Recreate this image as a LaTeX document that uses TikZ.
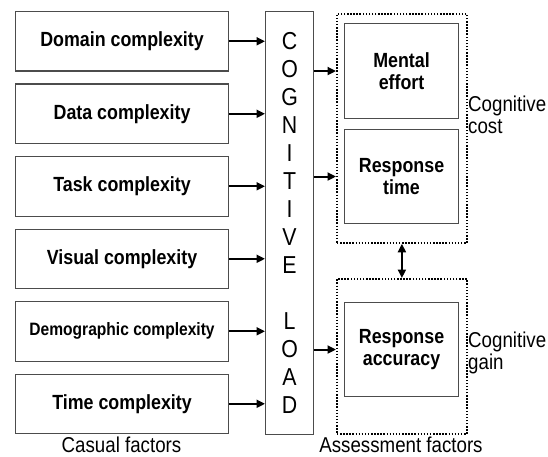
\documentclass[tikz,border=0pt]{standalone}
\usepackage{fontspec}
\setmainfont{Liberation Sans}[FakeStretch=0.87]
\usetikzlibrary{arrows.meta}
\begin{document}
\begin{tikzpicture}[x=1pt,y=-1pt,
  box/.style={draw=black!70, line width=1.1pt, inner sep=0pt, align=center},
  factor/.style={box, minimum width=213pt, minimum height=59.5pt, anchor=north west,
    font=\bfseries\fontsize{20.5}{22}\selectfont},
  outcome/.style={box, minimum width=114pt, minimum height=95pt, anchor=north west,
    font=\bfseries\fontsize{20.5}{22}\selectfont},
  group/.style={draw=black, line width=1.8pt, dash pattern=on 1.5pt off 1.6pt,
    minimum width=130pt, anchor=north west, inner sep=0pt},
  tip/.tip={Triangle[length=8.5pt,width=8pt]},
  link/.style={line width=2pt, -tip},
  note/.style={font=\fontsize{21.5}{21.5}\selectfont, align=left, inner sep=0pt},
  caption/.style={font=\fontsize{21.5}{21.5}\selectfont, inner sep=0pt, anchor=base}
]
\useasboundingbox (0,0) rectangle (548,457);

% causal factors
\node[factor] (f1) at (15,11)    {Domain complexity};
\node[factor] (f2) at (15,83.5)  {Data complexity};
\node[factor] (f3) at (15,156)   {Task complexity};
\node[factor] (f4) at (15,228.5) {Visual complexity};
\node[factor, font=\bfseries\fontsize{17.9}{20}\selectfont] (f5) at (15,301) {Demographic complexity};
\node[factor] (f6) at (15,373.5) {Time complexity};

% central column
\node[box, minimum width=48pt, minimum height=423pt, anchor=north west,
      font=\fontsize{24.5}{28}\selectfont] (cl) at (265,11)
  {C\\O\\G\\N\\I\\T\\I\\V\\E\\[28pt]L\\O\\A\\D};

\foreach \f in {f1,f2,f3,f4,f5,f6}
  \draw[link] (\f.east) -- (\f.east -| cl.west);

% assessment groups
\node[group, minimum height=229pt] (cost) at (336,13) {};
\node[group, minimum height=155pt] (gain) at (336,278) {};

\node[outcome] (me) at (344,23) {Mental\\effort};
\node[outcome, minimum height=94pt] (rt) at (344,129) {Response\\time};
\node[outcome, minimum height=94pt] (ra) at (344,302) {Response\\accuracy};

\draw[link] (cl.east |- me) -- (cost.west |- me);
\draw[link] (cl.east |- rt) -- (cost.west |- rt);
\draw[link] (cl.east |- ra) -- (gain.west |- ra);
\draw[line width=2pt, tip-tip] (cost.south) -- (gain.north);

\node[note, anchor=west] (cc) at (468,115) {Cognitive\\cost};
\node[note, anchor=west] (cg) at (468,353) {Cognitive\\gain};

\node[caption] (capl) at (121.5,452) {Casual factors};
\node[caption] (capr) at (401,452) {Assessment factors};
\end{tikzpicture}
\end{document}
